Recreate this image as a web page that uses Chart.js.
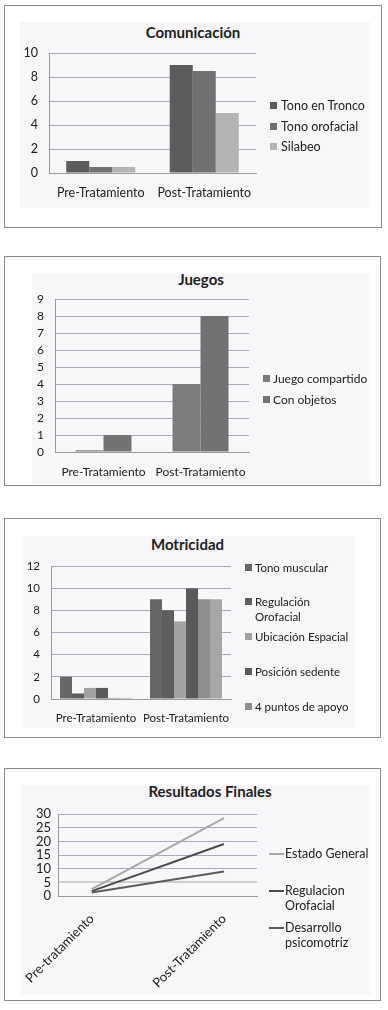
<!DOCTYPE html>
<html>
<head>
<meta charset="utf-8">
<script src="https://cdn.jsdelivr.net/npm/chart.js@4.4.0/dist/chart.umd.min.js"></script>
<style>
  body { margin: 0; width: 388px; height: 1010px; background: #fff; position: relative; overflow: hidden;
         font-family: Lato, "Open Sans", sans-serif; color: #222; }
  .box  { position: absolute; border: 1px solid #8a8a8a; box-sizing: border-box; }
  .dots { position: absolute; background: #f8f6f9; }
  canvas { position: absolute; }
  .title { position: absolute; font-weight: bold; font-size: 15px; white-space: nowrap; transform: translate(-50%, -50%); }
  .item { position: absolute; line-height: 15px; white-space: nowrap; }
  .item .sw { position: absolute; left: 0; }
</style>
</head>
<body>
<script>
'use strict';

/* ------------------------------------------------------------
   DATA
   ------------------------------------------------------------ */
const stages      = ['Pre-Tratamiento', 'Post-Tratamiento'];
const stagesFinal = ['Pre-tratamiento', 'Post-Tratamiento'];

// Comunicación
const comSeries = ['Tono en Tronco', 'Tono orofacial', 'Silabeo'];
const comTronco    = [1, 9];
const comOrofacial = [0.5, 8.5];
const comSilabeo   = [0.5, 5];

// Juegos
const jueSeries = ['Juego compartido', 'Con objetos'];
const jueCompartido = [0.1, 4];
const jueObjetos    = [1, 8];

// Motricidad (6th series legend entry falls outside the frame)
const motSeries = ['Tono muscular', 'Regulación Orofacial', 'Ubicación Espacial', 'Posición sedente', '4 puntos de apoyo', 'Serie 6'];
const motTono      = [2, 9];
const motRegOro    = [0.5, 8];
const motUbicacion = [1, 7];
const motSedente   = [1, 10];
const motPuntos    = [0.1, 9];
const motSerie6    = [0.1, 9];

// Resultados Finales
const finSeries = ['Estado General', 'Regulacion Orofacial', 'Desarrollo psicomotriz'];
const finEstado     = [2.5, 28.5];
const finRegulacion = [1.8, 19];
const finDesarrollo = [1.3, 9];

/* ------------------------------------------------------------
   STYLE
   ------------------------------------------------------------ */
const GRID   = '#aca7bd';
const BORDER = '#9b9b9b';
const TEXT   = '#222';

/* ------------------------------------------------------------
   HELPERS
   ------------------------------------------------------------ */
function el(cls, css, parent = document.body) {
  const d = document.createElement('div');
  d.className = cls;
  Object.assign(d.style, css);
  parent.appendChild(d);
  return d;
}

function frame(f) {
  el('box',  { left: f.box[0] + 'px', top: f.box[1] + 'px', width: f.box[2] + 'px', height: f.box[3] + 'px' });
  el('dots', { left: f.dots[0] + 'px', top: f.dots[1] + 'px', width: f.dots[2] + 'px', height: f.dots[3] + 'px' });
  const t = el('title', { left: f.title[1] + 'px', top: f.title[2] + 'px' });
  t.textContent = f.title[0];

  const c = document.createElement('canvas');
  c.width = f.canvas[2]; c.height = f.canvas[3];
  Object.assign(c.style, { left: f.canvas[0] + 'px', top: f.canvas[1] + 'px', width: f.canvas[2] + 'px', height: f.canvas[3] + 'px' });
  document.body.appendChild(c);
  return c;
}

// legend drawn as html so labels can wrap like the original
function legend(labels, colors, x, ys, kind, textOffset, size) {
  ys.forEach((cy, i) => {
    const lines = Array.isArray(labels[i]) ? labels[i] : [labels[i]];
    const item = el('item', { left: x + 'px', top: (cy - lines.length * 15 / 2) + 'px', fontSize: size + 'px' });
    el('sw', kind === 'line'
      ? { top: '7px', width: '15px', height: '2px', background: colors[i] }
      : { top: '4px', width: '7px', height: '7px', background: colors[i] }, item);
    const tx = el('', { position: 'absolute', left: textOffset + 'px', top: '0px' }, item);
    tx.innerHTML = lines.join('<br>');
  });
}

function barOptions(yMax, step, yWidth, pad, xHeight, xPad, size) {
  const font = { family: 'Lato', size };
  return {
    responsive: false,
    animation: false,
    layout: { padding: pad },
    plugins: { legend: { display: false }, title: { display: false }, tooltip: { enabled: false } },
    scales: {
      x: {
        grid: { display: false, drawTicks: false },
        border: { display: true, color: BORDER },
        ticks: { color: TEXT, font, padding: xPad, autoSkip: false, minRotation: 0, maxRotation: 0 },
        afterFit: s => { s.height = xHeight; },
      },
      y: {
        min: 0, max: yMax,
        grid: { color: GRID, drawTicks: false },
        border: { display: true, color: BORDER },
        ticks: { color: TEXT, font, stepSize: step, padding: 11, autoSkip: false },
        afterFit: s => { s.width = yWidth; },
      }
    }
  };
}

function barChart(canvas, labels, seriesNames, seriesData, colors, catPct, opts) {
  return new Chart(canvas, {
    type: 'bar',
    data: {
      labels,
      datasets: seriesNames.map((name, i) => ({
        label: name,
        data: seriesData[i],
        backgroundColor: colors[i],
        borderWidth: 0,
        categoryPercentage: catPct,
        barPercentage: 1,
      }))
    },
    options: opts
  });
}

/* ------------------------------------------------------------
   COMUNICACIÓN
   ------------------------------------------------------------ */
const comColors = ['#5c5c5c', '#717171', '#b4b4b4'];
barChart(
  frame({ box: [4, 5, 378, 223], dots: [20, 22, 350, 186], canvas: [5, 6, 376, 221], title: ['Comunicación', 193, 32] }),
  stages, comSeries, [comTronco, comOrofacial, comSilabeo], comColors, 0.667,
  barOptions(10, 2, 44, { top: 47, right: 125, bottom: 18, left: 0 }, 36, 12, 12.5)
);
legend(comSeries, comColors, 270, [105, 126, 146], 'box', 11, 12.5);

/* ------------------------------------------------------------
   JUEGOS
   ------------------------------------------------------------ */
const jueColors = ['#7c7c7c', '#727272'];
barChart(
  frame({ box: [4, 256, 377, 230], dots: [32, 273, 338, 211], canvas: [5, 257, 375, 228], title: ['Juegos', 201, 279] }),
  stages, jueSeries, [jueCompartido, jueObjetos], jueColors, 0.577,
  barOptions(9, 1, 50, { top: 42, right: 131, bottom: 0, left: 0 }, 33, 13, 12)
);
legend(jueSeries, jueColors, 263, [378, 399], 'box', 10, 12);

/* ------------------------------------------------------------
   MOTRICIDAD
   ------------------------------------------------------------ */
const motColors = ['#676767', '#5e5e5e', '#a2a2a2', '#5a5a5a', '#8e8e8e', '#a7a7a7'];
barChart(
  frame({ box: [4, 518, 377, 220], dots: [22, 536, 333, 192], canvas: [5, 519, 375, 218], title: ['Motricidad', 187.5, 544] }),
  stages, motSeries, [motTono, motRegOro, motUbicacion, motSedente, motPuntos, motSerie6], motColors, 0.8,
  barOptions(12, 2, 46, { top: 47, right: 149, bottom: 2, left: 0 }, 36, 12, 11.5)
);
legend(['Tono muscular', ['Regulación', 'Orofacial'], 'Ubicación Espacial', 'Posición sedente', '4 puntos de apoyo'],
       motColors, 245, [567, 609, 636, 671, 706], 'box', 10, 11.5);

/* ------------------------------------------------------------
   RESULTADOS FINALES (line)
   ------------------------------------------------------------ */
const finColors = ['#a9a9a9', '#4c4c4c', '#5c5c5c'];
const finData = [finEstado, finRegulacion, finDesarrollo];

new Chart(
  frame({ box: [4, 768, 377, 233], dots: [21, 785, 349, 210], canvas: [5, 769, 375, 231], title: ['Resultados Finales', 210, 791] }),
  {
    type: 'line',
    data: {
      datasets: finSeries.map((name, i) => ({
        label: name,
        data: finData[i].map((v, k) => ({ x: k, y: v })),
        borderColor: finColors[i],
        borderWidth: 2,
        pointRadius: 0,
        tension: 0,
      }))
    },
    options: {
      responsive: false,
      animation: false,
      layout: { padding: { top: 45, right: 123, bottom: 0, left: 0 } },
      plugins: { legend: { display: false }, tooltip: { enabled: false } },
      scales: {
        x: {
          type: 'linear',
          min: -0.255, max: 1.25,
          grid: { display: false, drawTicks: false },
          border: { display: true, color: BORDER },
          afterBuildTicks: s => { s.ticks = stagesFinal.map((_, k) => ({ value: k })); },
          ticks: { color: TEXT, font: { family: 'Lato', size: 13 }, minRotation: 45, maxRotation: 45, padding: 15,
                   autoSkip: false, callback: v => stagesFinal[v] },
          afterFit: s => { s.height = 104; },
        },
        y: {
          min: 0, max: 30,
          grid: {
            color: ctx => ctx.tick.value === 5 ? '#cfcfcf' : GRID,
            lineWidth: ctx => ctx.tick.value === 5 ? 2 : 1,
            drawTicks: false,
          },
          border: { display: true, color: BORDER },
          ticks: { color: TEXT, font: { family: 'Lato', size: 13 }, stepSize: 5, padding: 7, autoSkip: false },
          afterFit: s => { s.width = 46; },
        }
      }
    }
  }
);
legend(finSeries.map(s => s === 'Estado General' ? s : s.split(' ')), finColors, 269, [853, 898, 935], 'line', 16, 12.5);
</script>
</body>
</html>
